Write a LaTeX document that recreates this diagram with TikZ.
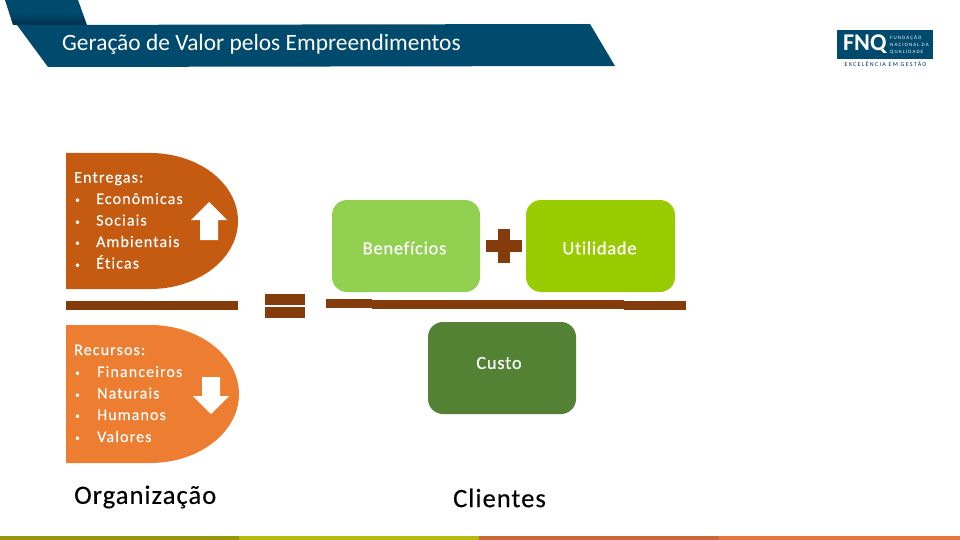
\documentclass[tikz,border=0pt]{standalone}
\usepackage{fontspec}
\setmainfont{Carlito}[Ligatures=NoCommon]
\newfontfamily\bodyfont[LetterSpace=4, FakeBold=0.35, Ligatures=NoCommon]{Carlito}
\newfontfamily\itemfont[LetterSpace=7, FakeBold=0.35, Ligatures=NoCommon]{Carlito}
\newfontfamily\logofont[LetterSpace=22, Ligatures=NoCommon]{Carlito}
\usetikzlibrary{arrows.meta, positioning, calc}
\definecolor{cnavy}{HTML}{004A6E}
\definecolor{cflap}{HTML}{02304A}
\definecolor{crust}{HTML}{C55A11}
\definecolor{corange}{HTML}{ED7D31}
\definecolor{cbrown}{HTML}{843C0C}
\definecolor{cleaf}{HTML}{92D050}
\definecolor{clime}{HTML}{99CC00}
\definecolor{cforest}{HTML}{548235}
\definecolor{colive}{HTML}{95980A}
\definecolor{cyellow}{HTML}{B5BB0E}
\definecolor{cclay}{HTML}{C9663A}
\definecolor{ccoral}{HTML}{E8773F}
\tikzset{
  every picture/.style={x=1pt, y=-1pt},
  item/.style={font=\itemfont\fontsize{16}{18}\selectfont, text=white, anchor=west, inner sep=0pt, text height=11pt, text depth=2pt},
  dot/.style={font=\fontsize{10}{12}\selectfont, text=white, anchor=west, inner sep=0pt, text height=11pt, text depth=2pt, yshift=0.5pt},
  box/.style={fill=#1, rounded corners=15pt, minimum height=92pt, minimum width=148pt, inner sep=0pt},
  boxtext/.style={font=\bodyfont\fontsize{18.5}{22}\selectfont, text=white, inner sep=0pt},
  caption/.style={font=\bodyfont\fontsize{26.5}{30}\selectfont, text=black, inner sep=0pt},
  bar/.style={fill=cbrown},
}
\begin{document}
\begin{tikzpicture}
  \useasboundingbox (0,0) rectangle (960,540);
  \fill[white] (0,0) rectangle (960,540);
  % header band
  \shade[top color=cnavy, bottom color=cflap, middle color=cnavy] (5,0) -- (78,0) -- (87,25) -- (13,25) -- cycle;
  \fill[cnavy] (17,25) -- (590,24) -- (615,66) -- (48,67) -- cycle;
  \node[font=\fontsize{23.4}{26}\selectfont, text=white, anchor=west, inner sep=0pt] (title) at (62,44.5) {Geração de Valor pelos Empreendimentos};
  % logo
  \node[fill=cnavy, minimum width=96pt, minimum height=29pt, inner sep=0pt] (logo) at (885,44.5) {};
  \node[font=\bfseries\fontsize{24}{24}\selectfont, text=white, anchor=west, inner sep=0pt] (fnq) at (843,44.5) {FNQ};
  \node[font=\logofont\fontsize{5}{7}\selectfont, text=white, anchor=west, align=left, inner sep=0pt] (fnqname) at (890,44.5) {FUNDAÇÃO\\NACIONAL DA\\QUALIDADE};
  \node[font=\logofont\fontsize{6}{6}\selectfont, text=cnavy!60!black, inner sep=0pt] (motto) at (885.5,64.5) {EXCELÊNCIA EM GESTÃO};
  % left column
  \fill[crust] (66,153) -- (150,153) .. controls (198.6,153) and (238,183.4) .. (238,221) .. controls (238,258.6) and (198.6,289) .. (150,289) -- (66,289) -- cycle;
  \fill[corange] (66,325) -- (150,325) .. controls (199.2,325) and (239,355.9) .. (239,394) .. controls (239,432.1) and (199.2,463) .. (150,463) -- (66,463) -- cycle;
  \node[item] (entregas) at (74,178) {Entregas:};
  \foreach \y/\t/\n in {199.5/Econômicas/e1, 221/Sociais/e2, 242.5/Ambientais/e3, 264/Éticas/e4} {
    \node[item] (\n) at (96,\y) {\t};
    \node[dot] (b\n) at (75,\y) {•};
  }
  \node[item] (recursos) at (74,350.5) {Recursos:};
  \foreach \y/\t/\n in {372.5/Financeiros/r1, 394/Naturais/r2, 415.5/Humanos/r3, 437.5/Valores/r4} {
    \node[item] (\n) at (97,\y) {\t};
    \node[dot] (b\n) at (75,\y) {•};
  }
  \fill[white] (209,202) -- (227,220) -- (218,220) -- (218,240) -- (200,240) -- (200,220) -- (191,220) -- cycle;
  \fill[white] (211,414) -- (229,396) -- (220,396) -- (220,377) -- (202,377) -- (202,396) -- (193,396) -- cycle;
  \fill[bar] (66,301) rectangle (238,310);
  % equals and plus
  \fill[bar] (265,294) rectangle (305,305);
  \fill[bar] (265,307) rectangle (305,318);
  \fill[bar] (498,229) rectangle (510,263);
  \fill[bar] (486,240) rectangle (522,252);
  % right column
  \node[box=cleaf] (beneficios) at (406,246) {};
  \node[box=clime, minimum width=149pt] (utilidade) at (600.5,246) {};
  \node[box=cforest] (custo) at (502,368) {};
  \node[boxtext] (beneficiostext) at (404.5,248) {Benefícios};
  \node[boxtext] (utilidadetext) at (599.5,248) {Utilidade};
  \node[boxtext] (custotext) at (499,363) {Custo};
  \fill[bar] (326,299) rectangle (372,307.5);
  \fill[bar] (372,300) rectangle (624,309);
  \fill[bar] (624,301) rectangle (686,310);
  \node[caption, anchor=west] (organizacao) at (74,497) {Organização};
  \node[caption] (clientes) at (499.5,498) {Clientes};
  % bottom strip
  \foreach \a/\b/\c in {0/239/colive, 239/479/cyellow, 479/719/cclay, 719/960/ccoral} {
    \fill[\c] (\a,536) rectangle (\b,540);
  }
\end{tikzpicture}
\end{document}
